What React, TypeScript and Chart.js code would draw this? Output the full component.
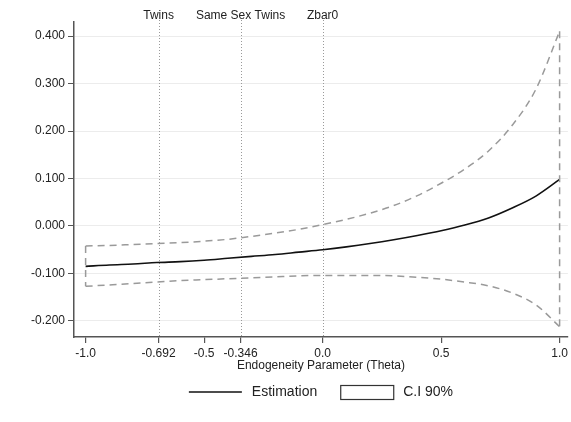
import React, { useEffect, useRef } from "react";
import { Chart, registerables } from "chart.js";
Chart.register(...registerables);

const theta = [-1.0, -0.9, -0.8, -0.7, -0.6, -0.5, -0.4, -0.3, -0.2, -0.1, 0.0, 0.1, 0.2, 0.3, 0.4, 0.5, 0.6, 0.7, 0.8, 0.9, 1.0];
const estimation = [-0.085, -0.082, -0.08, -0.077, -0.075, -0.072, -0.068, -0.064, -0.06, -0.055, -0.05, -0.044, -0.037, -0.029, -0.02, -0.01, 0.002, 0.017, 0.038, 0.063, 0.098];
const ciUpper = [-0.042, -0.041, -0.039, -0.037, -0.035, -0.032, -0.028, -0.022, -0.015, -0.007, 0.003, 0.014, 0.027, 0.043, 0.064, 0.09, 0.12, 0.158, 0.212, 0.288, 0.41];
const ciLower = [-0.127, -0.124, -0.121, -0.118, -0.115, -0.113, -0.111, -0.109, -0.107, -0.105, -0.104, -0.104, -0.104, -0.105, -0.108, -0.112, -0.118, -0.126, -0.141, -0.166, -0.212];

const xTickValues = [-1.0, -0.692, -0.5, -0.346, 0.0, 0.5, 1.0];
const xTickLabels = ["-1.0", "-0.692", "-0.5", "-0.346", "0.0", "0.5", "1.0"];
const yTickValues = [-0.2, -0.1, 0.0, 0.1, 0.2, 0.3, 0.4];
const yTickLabels = ["-0.200", "-0.100", "0.000", "0.100", "0.200", "0.300", "0.400"];
const markerPositions = [-0.692, -0.346, 0.0];
const markerLabels = ["Twins", "Same Sex Twins", "Zbar0"];
const legendLabels = ["Estimation", "C.I 90%"];
const xTitle = "Endogeneity Parameter (Theta)";

const FONT = "'Liberation Sans', Arial, sans-serif";
const CI_COLOR = "#9a9a9a";

export default function App() {
  const ref = useRef<HTMLCanvasElement | null>(null);
  useEffect(() => {
    if (!ref.current) return;
    const pts = (ys: number[]) => theta.map((x, i) => ({ x, y: ys[i] }));
    const ciStyle = {
      borderColor: CI_COLOR,
      borderWidth: 1.5,
      borderDash: [7, 5],
      pointRadius: 0,
      showLine: true,
      fill: false,
    };
    const markerPlugin = {
      id: "markers",
      beforeDatasetsDraw(chart: any) {
        const { ctx, chartArea, scales } = chart;
        ctx.save();
        ctx.strokeStyle = "#9a9a9a";
        ctx.lineWidth = 1;
        ctx.setLineDash([1, 2]);
        markerPositions.forEach((v) => {
          const x = Math.round(scales.x.getPixelForValue(v)) + 0.5;
          ctx.beginPath();
          ctx.moveTo(x, chartArea.top - 2);
          ctx.lineTo(x, chartArea.bottom);
          ctx.stroke();
        });
        ctx.setLineDash([]);
        ctx.fillStyle = "#222";
        ctx.font = `12px ${FONT}`;
        ctx.textAlign = "center";
        ctx.textBaseline = "middle";
        markerPositions.forEach((v, i) => {
          const x = scales.x.getPixelForValue(v);
          ctx.fillText(markerLabels[i], x, 16);
        });
        ctx.restore();
      },
      afterDraw(chart: any) {
        const { ctx, chartArea } = chart;
        ctx.save();
        ctx.font = `14px ${FONT}`;
        const w0 = ctx.measureText(legendLabels[0]).width;
        const w1 = ctx.measureText(legendLabels[1]).width;
        const sw = 53, gap = 10, itemGap = 23;
        const total = sw + gap + w0 + itemGap + sw + gap + w1;
        const cx = (chartArea.left + chartArea.right) / 2;
        let x = cx - total / 2;
        const y = 392;
        ctx.strokeStyle = "#111";
        ctx.lineWidth = 1.5;
        ctx.beginPath();
        ctx.moveTo(x, y);
        ctx.lineTo(x + sw, y);
        ctx.stroke();
        x += sw + gap;
        ctx.fillStyle = "#222";
        ctx.textBaseline = "middle";
        ctx.textAlign = "left";
        ctx.fillText(legendLabels[0], x, y);
        x += w0 + itemGap;
        ctx.strokeStyle = "#333";
        ctx.lineWidth = 1.2;
        ctx.strokeRect(x + 0.5, y - 7 + 0.5, sw, 14);
        x += sw + gap;
        ctx.fillText(legendLabels[1], x, y);
        ctx.restore();
      },
    };
    const chart = new Chart(ref.current, {
      type: "scatter",
      data: {
        datasets: [
          { ...ciStyle, data: pts(ciUpper), cubicInterpolationMode: "monotone" },
          { ...ciStyle, data: pts(ciLower), cubicInterpolationMode: "monotone" },
          { ...ciStyle, data: [{ x: theta[0], y: ciUpper[0] }, { x: theta[0], y: ciLower[0] }] },
          {
            ...ciStyle,
            data: [
              { x: theta[theta.length - 1], y: ciUpper[ciUpper.length - 1] },
              { x: theta[theta.length - 1], y: ciLower[ciLower.length - 1] },
            ],
          },
          {
            data: pts(estimation),
            borderColor: "#111",
            borderWidth: 1.6,
            pointRadius: 0,
            showLine: true,
            fill: false,
            cubicInterpolationMode: "monotone",
          },
        ] as any,
      },
      options: {
        animation: false,
        responsive: false,
        devicePixelRatio: 1,
        layout: { padding: { top: 22, right: 3, bottom: 49, left: 0 } },
        plugins: { legend: { display: false }, tooltip: { enabled: false } },
        scales: {
          x: {
            type: "linear",
            min: -1.049,
            max: 1.035,
            afterBuildTicks: (s: any) => {
              s.ticks = xTickValues.map((v) => ({ value: v }));
            },
            afterFit: (s: any) => {
              s.height = 36;
            },
            ticks: {
              autoSkip: false,
              maxRotation: 0,
              padding: 3,
              color: "#222",
              font: { family: FONT, size: 12 },
              callback: (v: any) => {
                const i = xTickValues.indexOf(Number(v));
                return i >= 0 ? xTickLabels[i] : "";
              },
            },
            grid: { drawOnChartArea: false, drawTicks: true, tickLength: 6, color: "#555", lineWidth: 1.2 },
            border: { color: "#555", width: 1.5 },
            title: {
              display: true,
              text: xTitle,
              color: "#222",
              font: { family: FONT, size: 12, lineHeight: 1.2 },
              padding: { top: 0, bottom: 0 },
            },
          },
          y: {
            type: "linear",
            min: -0.2337,
            max: 0.4295,
            afterBuildTicks: (s: any) => {
              s.ticks = yTickValues.map((v) => ({ value: v }));
            },
            afterFit: (s: any) => {
              s.width = 74;
            },
            ticks: {
              autoSkip: false,
              padding: 3,
              color: "#222",
              font: { family: FONT, size: 12 },
              callback: (v: any) => {
                const i = yTickValues.findIndex((t) => Math.abs(t - Number(v)) < 1e-9);
                return i >= 0 ? yTickLabels[i] : "";
              },
            },
            grid: {
              drawOnChartArea: true,
              drawTicks: true,
              tickLength: 6,
              color: "#ececec",
              tickColor: "#555",
              lineWidth: 1,
            },
            border: { color: "#555", width: 1.5 },
          },
        },
      } as any,
      plugins: [markerPlugin],
    });
    return () => chart.destroy();
  }, []);
  return (
    <div style={{ position: "fixed", left: 0, top: 0, width: 571, height: 422, background: "#fff" }}>
      <canvas ref={ref} width={571} height={422} style={{ width: 571, height: 422, display: "block" }} />
    </div>
  );
}
